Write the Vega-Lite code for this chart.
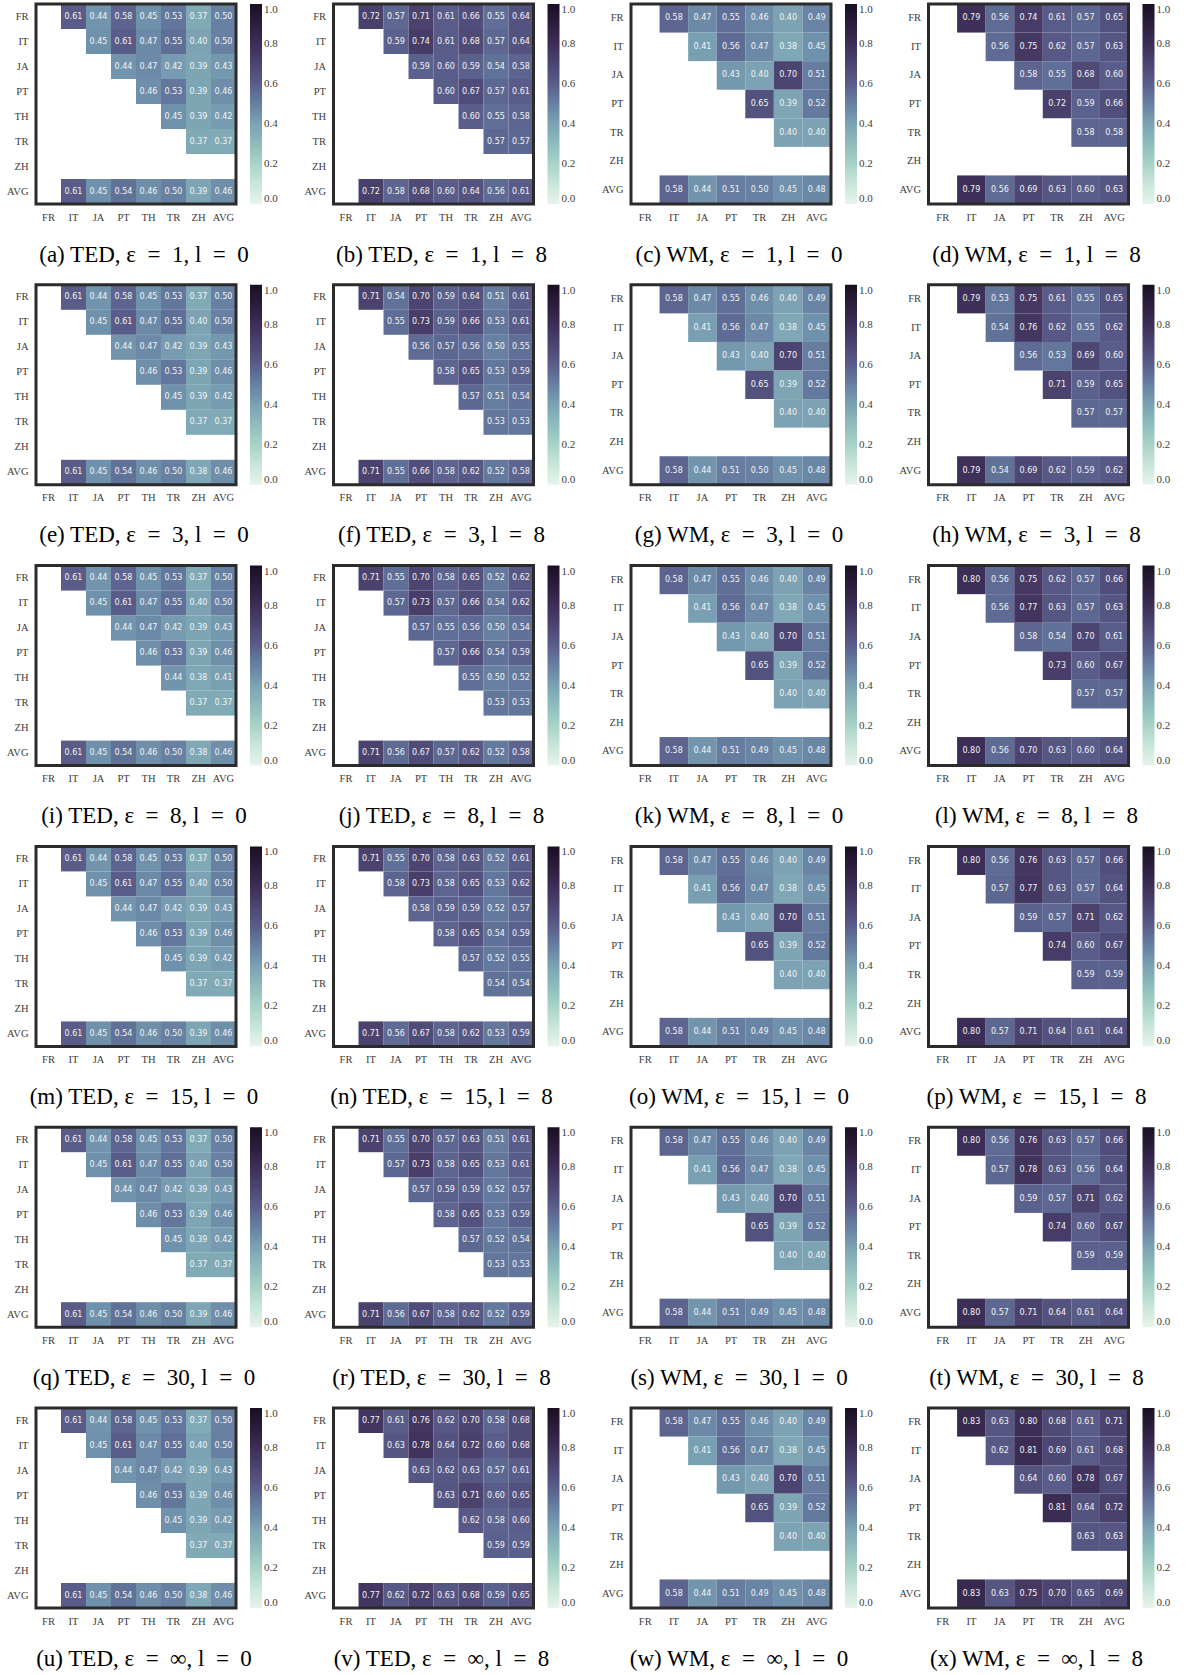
{
"$schema":"https://vega.github.io/schema/vega-lite/v6.json",
"padding":{"left":5,"top":2,"right":0,"bottom":0},
"background":"white",
"config":{
 "view":{"stroke":"#2b2b2b","strokeWidth":3},
 "style":{"cell":{"strokeForeground":true}},
 "axis":{"domain":false,"ticks":false,"grid":false,"labelFont":"Liberation Serif","labelFontSize":10.5,"labelColor":"#3c3c3c","labelPadding":8,"labelAngle":0,"title":null},
 "legend":{"gradientLength":200,"gradientThickness":12,"offset":14,"padding":0,"labelFont":"Liberation Serif","labelFontSize":11,"labelColor":"#3c3c3c","labelOffset":13,"labelBaseline":"middle","gradientStrokeWidth":0},
 "title":{"orient":"bottom","anchor":"middle","frame":"group","font":"Liberation Serif","fontSize":23,"fontWeight":"normal","color":"#000","offset":21,"dx":8}
},
"resolve":{"scale":{"color":"independent","x":"independent","y":"independent"},"legend":{"color":"independent"}},
"bounds":"flush",
"columns":4,
"spacing":{"row":80.8,"column":97.5},
"data":{"values":[
{"p":"a","r":"FR","c":"IT","v":0.61},{"p":"a","r":"FR","c":"JA","v":0.44},{"p":"a","r":"FR","c":"PT","v":0.58},{"p":"a","r":"FR","c":"TH","v":0.45},{"p":"a","r":"FR","c":"TR","v":0.53},{"p":"a","r":"FR","c":"ZH","v":0.37},{"p":"a","r":"FR","c":"AVG","v":0.50},
{"p":"a","r":"IT","c":"JA","v":0.45},{"p":"a","r":"IT","c":"PT","v":0.61},{"p":"a","r":"IT","c":"TH","v":0.47},{"p":"a","r":"IT","c":"TR","v":0.55},{"p":"a","r":"IT","c":"ZH","v":0.40},{"p":"a","r":"IT","c":"AVG","v":0.50},
{"p":"a","r":"JA","c":"PT","v":0.44},{"p":"a","r":"JA","c":"TH","v":0.47},{"p":"a","r":"JA","c":"TR","v":0.42},{"p":"a","r":"JA","c":"ZH","v":0.39},{"p":"a","r":"JA","c":"AVG","v":0.43},
{"p":"a","r":"PT","c":"TH","v":0.46},{"p":"a","r":"PT","c":"TR","v":0.53},{"p":"a","r":"PT","c":"ZH","v":0.39},{"p":"a","r":"PT","c":"AVG","v":0.46},
{"p":"a","r":"TH","c":"TR","v":0.45},{"p":"a","r":"TH","c":"ZH","v":0.39},{"p":"a","r":"TH","c":"AVG","v":0.42},
{"p":"a","r":"TR","c":"ZH","v":0.37},{"p":"a","r":"TR","c":"AVG","v":0.37},
{"p":"a","r":"ZH","c":"FR","v":null},
{"p":"a","r":"AVG","c":"IT","v":0.61},{"p":"a","r":"AVG","c":"JA","v":0.45},{"p":"a","r":"AVG","c":"PT","v":0.54},{"p":"a","r":"AVG","c":"TH","v":0.46},{"p":"a","r":"AVG","c":"TR","v":0.50},{"p":"a","r":"AVG","c":"ZH","v":0.39},{"p":"a","r":"AVG","c":"AVG","v":0.46},

{"p":"b","r":"FR","c":"IT","v":0.72},{"p":"b","r":"FR","c":"JA","v":0.57},{"p":"b","r":"FR","c":"PT","v":0.71},{"p":"b","r":"FR","c":"TH","v":0.61},{"p":"b","r":"FR","c":"TR","v":0.66},{"p":"b","r":"FR","c":"ZH","v":0.55},{"p":"b","r":"FR","c":"AVG","v":0.64},
{"p":"b","r":"IT","c":"JA","v":0.59},{"p":"b","r":"IT","c":"PT","v":0.74},{"p":"b","r":"IT","c":"TH","v":0.61},{"p":"b","r":"IT","c":"TR","v":0.68},{"p":"b","r":"IT","c":"ZH","v":0.57},{"p":"b","r":"IT","c":"AVG","v":0.64},
{"p":"b","r":"JA","c":"PT","v":0.59},{"p":"b","r":"JA","c":"TH","v":0.60},{"p":"b","r":"JA","c":"TR","v":0.59},{"p":"b","r":"JA","c":"ZH","v":0.54},{"p":"b","r":"JA","c":"AVG","v":0.58},
{"p":"b","r":"PT","c":"TH","v":0.60},{"p":"b","r":"PT","c":"TR","v":0.67},{"p":"b","r":"PT","c":"ZH","v":0.57},{"p":"b","r":"PT","c":"AVG","v":0.61},
{"p":"b","r":"TH","c":"TR","v":0.60},{"p":"b","r":"TH","c":"ZH","v":0.55},{"p":"b","r":"TH","c":"AVG","v":0.58},
{"p":"b","r":"TR","c":"ZH","v":0.57},{"p":"b","r":"TR","c":"AVG","v":0.57},
{"p":"b","r":"ZH","c":"FR","v":null},
{"p":"b","r":"AVG","c":"IT","v":0.72},{"p":"b","r":"AVG","c":"JA","v":0.58},{"p":"b","r":"AVG","c":"PT","v":0.68},{"p":"b","r":"AVG","c":"TH","v":0.60},{"p":"b","r":"AVG","c":"TR","v":0.64},{"p":"b","r":"AVG","c":"ZH","v":0.56},{"p":"b","r":"AVG","c":"AVG","v":0.61},

{"p":"c","r":"FR","c":"IT","v":0.58},{"p":"c","r":"FR","c":"JA","v":0.47},{"p":"c","r":"FR","c":"PT","v":0.55},{"p":"c","r":"FR","c":"TR","v":0.46},{"p":"c","r":"FR","c":"ZH","v":0.40},{"p":"c","r":"FR","c":"AVG","v":0.49},
{"p":"c","r":"IT","c":"JA","v":0.41},{"p":"c","r":"IT","c":"PT","v":0.56},{"p":"c","r":"IT","c":"TR","v":0.47},{"p":"c","r":"IT","c":"ZH","v":0.38},{"p":"c","r":"IT","c":"AVG","v":0.45},
{"p":"c","r":"JA","c":"PT","v":0.43},{"p":"c","r":"JA","c":"TR","v":0.40},{"p":"c","r":"JA","c":"ZH","v":0.70},{"p":"c","r":"JA","c":"AVG","v":0.51},
{"p":"c","r":"PT","c":"TR","v":0.65},{"p":"c","r":"PT","c":"ZH","v":0.39},{"p":"c","r":"PT","c":"AVG","v":0.52},
{"p":"c","r":"TR","c":"ZH","v":0.40},{"p":"c","r":"TR","c":"AVG","v":0.40},
{"p":"c","r":"ZH","c":"FR","v":null},
{"p":"c","r":"AVG","c":"IT","v":0.58},{"p":"c","r":"AVG","c":"JA","v":0.44},{"p":"c","r":"AVG","c":"PT","v":0.51},{"p":"c","r":"AVG","c":"TR","v":0.50},{"p":"c","r":"AVG","c":"ZH","v":0.45},{"p":"c","r":"AVG","c":"AVG","v":0.48},

{"p":"d","r":"FR","c":"IT","v":0.79},{"p":"d","r":"FR","c":"JA","v":0.56},{"p":"d","r":"FR","c":"PT","v":0.74},{"p":"d","r":"FR","c":"TR","v":0.61},{"p":"d","r":"FR","c":"ZH","v":0.57},{"p":"d","r":"FR","c":"AVG","v":0.65},
{"p":"d","r":"IT","c":"JA","v":0.56},{"p":"d","r":"IT","c":"PT","v":0.75},{"p":"d","r":"IT","c":"TR","v":0.62},{"p":"d","r":"IT","c":"ZH","v":0.57},{"p":"d","r":"IT","c":"AVG","v":0.63},
{"p":"d","r":"JA","c":"PT","v":0.58},{"p":"d","r":"JA","c":"TR","v":0.55},{"p":"d","r":"JA","c":"ZH","v":0.68},{"p":"d","r":"JA","c":"AVG","v":0.60},
{"p":"d","r":"PT","c":"TR","v":0.72},{"p":"d","r":"PT","c":"ZH","v":0.59},{"p":"d","r":"PT","c":"AVG","v":0.66},
{"p":"d","r":"TR","c":"ZH","v":0.58},{"p":"d","r":"TR","c":"AVG","v":0.58},
{"p":"d","r":"ZH","c":"FR","v":null},
{"p":"d","r":"AVG","c":"IT","v":0.79},{"p":"d","r":"AVG","c":"JA","v":0.56},{"p":"d","r":"AVG","c":"PT","v":0.69},{"p":"d","r":"AVG","c":"TR","v":0.63},{"p":"d","r":"AVG","c":"ZH","v":0.60},{"p":"d","r":"AVG","c":"AVG","v":0.63},

{"p":"e","r":"FR","c":"IT","v":0.61},{"p":"e","r":"FR","c":"JA","v":0.44},{"p":"e","r":"FR","c":"PT","v":0.58},{"p":"e","r":"FR","c":"TH","v":0.45},{"p":"e","r":"FR","c":"TR","v":0.53},{"p":"e","r":"FR","c":"ZH","v":0.37},{"p":"e","r":"FR","c":"AVG","v":0.50},
{"p":"e","r":"IT","c":"JA","v":0.45},{"p":"e","r":"IT","c":"PT","v":0.61},{"p":"e","r":"IT","c":"TH","v":0.47},{"p":"e","r":"IT","c":"TR","v":0.55},{"p":"e","r":"IT","c":"ZH","v":0.40},{"p":"e","r":"IT","c":"AVG","v":0.50},
{"p":"e","r":"JA","c":"PT","v":0.44},{"p":"e","r":"JA","c":"TH","v":0.47},{"p":"e","r":"JA","c":"TR","v":0.42},{"p":"e","r":"JA","c":"ZH","v":0.39},{"p":"e","r":"JA","c":"AVG","v":0.43},
{"p":"e","r":"PT","c":"TH","v":0.46},{"p":"e","r":"PT","c":"TR","v":0.53},{"p":"e","r":"PT","c":"ZH","v":0.39},{"p":"e","r":"PT","c":"AVG","v":0.46},
{"p":"e","r":"TH","c":"TR","v":0.45},{"p":"e","r":"TH","c":"ZH","v":0.39},{"p":"e","r":"TH","c":"AVG","v":0.42},
{"p":"e","r":"TR","c":"ZH","v":0.37},{"p":"e","r":"TR","c":"AVG","v":0.37},
{"p":"e","r":"ZH","c":"FR","v":null},
{"p":"e","r":"AVG","c":"IT","v":0.61},{"p":"e","r":"AVG","c":"JA","v":0.45},{"p":"e","r":"AVG","c":"PT","v":0.54},{"p":"e","r":"AVG","c":"TH","v":0.46},{"p":"e","r":"AVG","c":"TR","v":0.50},{"p":"e","r":"AVG","c":"ZH","v":0.38},{"p":"e","r":"AVG","c":"AVG","v":0.46},

{"p":"f","r":"FR","c":"IT","v":0.71},{"p":"f","r":"FR","c":"JA","v":0.54},{"p":"f","r":"FR","c":"PT","v":0.70},{"p":"f","r":"FR","c":"TH","v":0.59},{"p":"f","r":"FR","c":"TR","v":0.64},{"p":"f","r":"FR","c":"ZH","v":0.51},{"p":"f","r":"FR","c":"AVG","v":0.61},
{"p":"f","r":"IT","c":"JA","v":0.55},{"p":"f","r":"IT","c":"PT","v":0.73},{"p":"f","r":"IT","c":"TH","v":0.59},{"p":"f","r":"IT","c":"TR","v":0.66},{"p":"f","r":"IT","c":"ZH","v":0.53},{"p":"f","r":"IT","c":"AVG","v":0.61},
{"p":"f","r":"JA","c":"PT","v":0.56},{"p":"f","r":"JA","c":"TH","v":0.57},{"p":"f","r":"JA","c":"TR","v":0.56},{"p":"f","r":"JA","c":"ZH","v":0.50},{"p":"f","r":"JA","c":"AVG","v":0.55},
{"p":"f","r":"PT","c":"TH","v":0.58},{"p":"f","r":"PT","c":"TR","v":0.65},{"p":"f","r":"PT","c":"ZH","v":0.53},{"p":"f","r":"PT","c":"AVG","v":0.59},
{"p":"f","r":"TH","c":"TR","v":0.57},{"p":"f","r":"TH","c":"ZH","v":0.51},{"p":"f","r":"TH","c":"AVG","v":0.54},
{"p":"f","r":"TR","c":"ZH","v":0.53},{"p":"f","r":"TR","c":"AVG","v":0.53},
{"p":"f","r":"ZH","c":"FR","v":null},
{"p":"f","r":"AVG","c":"IT","v":0.71},{"p":"f","r":"AVG","c":"JA","v":0.55},{"p":"f","r":"AVG","c":"PT","v":0.66},{"p":"f","r":"AVG","c":"TH","v":0.58},{"p":"f","r":"AVG","c":"TR","v":0.62},{"p":"f","r":"AVG","c":"ZH","v":0.52},{"p":"f","r":"AVG","c":"AVG","v":0.58},

{"p":"g","r":"FR","c":"IT","v":0.58},{"p":"g","r":"FR","c":"JA","v":0.47},{"p":"g","r":"FR","c":"PT","v":0.55},{"p":"g","r":"FR","c":"TR","v":0.46},{"p":"g","r":"FR","c":"ZH","v":0.40},{"p":"g","r":"FR","c":"AVG","v":0.49},
{"p":"g","r":"IT","c":"JA","v":0.41},{"p":"g","r":"IT","c":"PT","v":0.56},{"p":"g","r":"IT","c":"TR","v":0.47},{"p":"g","r":"IT","c":"ZH","v":0.38},{"p":"g","r":"IT","c":"AVG","v":0.45},
{"p":"g","r":"JA","c":"PT","v":0.43},{"p":"g","r":"JA","c":"TR","v":0.40},{"p":"g","r":"JA","c":"ZH","v":0.70},{"p":"g","r":"JA","c":"AVG","v":0.51},
{"p":"g","r":"PT","c":"TR","v":0.65},{"p":"g","r":"PT","c":"ZH","v":0.39},{"p":"g","r":"PT","c":"AVG","v":0.52},
{"p":"g","r":"TR","c":"ZH","v":0.40},{"p":"g","r":"TR","c":"AVG","v":0.40},
{"p":"g","r":"ZH","c":"FR","v":null},
{"p":"g","r":"AVG","c":"IT","v":0.58},{"p":"g","r":"AVG","c":"JA","v":0.44},{"p":"g","r":"AVG","c":"PT","v":0.51},{"p":"g","r":"AVG","c":"TR","v":0.50},{"p":"g","r":"AVG","c":"ZH","v":0.45},{"p":"g","r":"AVG","c":"AVG","v":0.48},

{"p":"h","r":"FR","c":"IT","v":0.79},{"p":"h","r":"FR","c":"JA","v":0.53},{"p":"h","r":"FR","c":"PT","v":0.75},{"p":"h","r":"FR","c":"TR","v":0.61},{"p":"h","r":"FR","c":"ZH","v":0.55},{"p":"h","r":"FR","c":"AVG","v":0.65},
{"p":"h","r":"IT","c":"JA","v":0.54},{"p":"h","r":"IT","c":"PT","v":0.76},{"p":"h","r":"IT","c":"TR","v":0.62},{"p":"h","r":"IT","c":"ZH","v":0.55},{"p":"h","r":"IT","c":"AVG","v":0.62},
{"p":"h","r":"JA","c":"PT","v":0.56},{"p":"h","r":"JA","c":"TR","v":0.53},{"p":"h","r":"JA","c":"ZH","v":0.69},{"p":"h","r":"JA","c":"AVG","v":0.60},
{"p":"h","r":"PT","c":"TR","v":0.71},{"p":"h","r":"PT","c":"ZH","v":0.59},{"p":"h","r":"PT","c":"AVG","v":0.65},
{"p":"h","r":"TR","c":"ZH","v":0.57},{"p":"h","r":"TR","c":"AVG","v":0.57},
{"p":"h","r":"ZH","c":"FR","v":null},
{"p":"h","r":"AVG","c":"IT","v":0.79},{"p":"h","r":"AVG","c":"JA","v":0.54},{"p":"h","r":"AVG","c":"PT","v":0.69},{"p":"h","r":"AVG","c":"TR","v":0.62},{"p":"h","r":"AVG","c":"ZH","v":0.59},{"p":"h","r":"AVG","c":"AVG","v":0.62},

{"p":"i","r":"FR","c":"IT","v":0.61},{"p":"i","r":"FR","c":"JA","v":0.44},{"p":"i","r":"FR","c":"PT","v":0.58},{"p":"i","r":"FR","c":"TH","v":0.45},{"p":"i","r":"FR","c":"TR","v":0.53},{"p":"i","r":"FR","c":"ZH","v":0.37},{"p":"i","r":"FR","c":"AVG","v":0.50},
{"p":"i","r":"IT","c":"JA","v":0.45},{"p":"i","r":"IT","c":"PT","v":0.61},{"p":"i","r":"IT","c":"TH","v":0.47},{"p":"i","r":"IT","c":"TR","v":0.55},{"p":"i","r":"IT","c":"ZH","v":0.40},{"p":"i","r":"IT","c":"AVG","v":0.50},
{"p":"i","r":"JA","c":"PT","v":0.44},{"p":"i","r":"JA","c":"TH","v":0.47},{"p":"i","r":"JA","c":"TR","v":0.42},{"p":"i","r":"JA","c":"ZH","v":0.39},{"p":"i","r":"JA","c":"AVG","v":0.43},
{"p":"i","r":"PT","c":"TH","v":0.46},{"p":"i","r":"PT","c":"TR","v":0.53},{"p":"i","r":"PT","c":"ZH","v":0.39},{"p":"i","r":"PT","c":"AVG","v":0.46},
{"p":"i","r":"TH","c":"TR","v":0.44},{"p":"i","r":"TH","c":"ZH","v":0.38},{"p":"i","r":"TH","c":"AVG","v":0.41},
{"p":"i","r":"TR","c":"ZH","v":0.37},{"p":"i","r":"TR","c":"AVG","v":0.37},
{"p":"i","r":"ZH","c":"FR","v":null},
{"p":"i","r":"AVG","c":"IT","v":0.61},{"p":"i","r":"AVG","c":"JA","v":0.45},{"p":"i","r":"AVG","c":"PT","v":0.54},{"p":"i","r":"AVG","c":"TH","v":0.46},{"p":"i","r":"AVG","c":"TR","v":0.50},{"p":"i","r":"AVG","c":"ZH","v":0.38},{"p":"i","r":"AVG","c":"AVG","v":0.46},

{"p":"j","r":"FR","c":"IT","v":0.71},{"p":"j","r":"FR","c":"JA","v":0.55},{"p":"j","r":"FR","c":"PT","v":0.70},{"p":"j","r":"FR","c":"TH","v":0.58},{"p":"j","r":"FR","c":"TR","v":0.65},{"p":"j","r":"FR","c":"ZH","v":0.52},{"p":"j","r":"FR","c":"AVG","v":0.62},
{"p":"j","r":"IT","c":"JA","v":0.57},{"p":"j","r":"IT","c":"PT","v":0.73},{"p":"j","r":"IT","c":"TH","v":0.57},{"p":"j","r":"IT","c":"TR","v":0.66},{"p":"j","r":"IT","c":"ZH","v":0.54},{"p":"j","r":"IT","c":"AVG","v":0.62},
{"p":"j","r":"JA","c":"PT","v":0.57},{"p":"j","r":"JA","c":"TH","v":0.55},{"p":"j","r":"JA","c":"TR","v":0.56},{"p":"j","r":"JA","c":"ZH","v":0.50},{"p":"j","r":"JA","c":"AVG","v":0.54},
{"p":"j","r":"PT","c":"TH","v":0.57},{"p":"j","r":"PT","c":"TR","v":0.66},{"p":"j","r":"PT","c":"ZH","v":0.54},{"p":"j","r":"PT","c":"AVG","v":0.59},
{"p":"j","r":"TH","c":"TR","v":0.55},{"p":"j","r":"TH","c":"ZH","v":0.50},{"p":"j","r":"TH","c":"AVG","v":0.52},
{"p":"j","r":"TR","c":"ZH","v":0.53},{"p":"j","r":"TR","c":"AVG","v":0.53},
{"p":"j","r":"ZH","c":"FR","v":null},
{"p":"j","r":"AVG","c":"IT","v":0.71},{"p":"j","r":"AVG","c":"JA","v":0.56},{"p":"j","r":"AVG","c":"PT","v":0.67},{"p":"j","r":"AVG","c":"TH","v":0.57},{"p":"j","r":"AVG","c":"TR","v":0.62},{"p":"j","r":"AVG","c":"ZH","v":0.52},{"p":"j","r":"AVG","c":"AVG","v":0.58},

{"p":"k","r":"FR","c":"IT","v":0.58},{"p":"k","r":"FR","c":"JA","v":0.47},{"p":"k","r":"FR","c":"PT","v":0.55},{"p":"k","r":"FR","c":"TR","v":0.46},{"p":"k","r":"FR","c":"ZH","v":0.40},{"p":"k","r":"FR","c":"AVG","v":0.49},
{"p":"k","r":"IT","c":"JA","v":0.41},{"p":"k","r":"IT","c":"PT","v":0.56},{"p":"k","r":"IT","c":"TR","v":0.47},{"p":"k","r":"IT","c":"ZH","v":0.38},{"p":"k","r":"IT","c":"AVG","v":0.45},
{"p":"k","r":"JA","c":"PT","v":0.43},{"p":"k","r":"JA","c":"TR","v":0.40},{"p":"k","r":"JA","c":"ZH","v":0.70},{"p":"k","r":"JA","c":"AVG","v":0.51},
{"p":"k","r":"PT","c":"TR","v":0.65},{"p":"k","r":"PT","c":"ZH","v":0.39},{"p":"k","r":"PT","c":"AVG","v":0.52},
{"p":"k","r":"TR","c":"ZH","v":0.40},{"p":"k","r":"TR","c":"AVG","v":0.40},
{"p":"k","r":"ZH","c":"FR","v":null},
{"p":"k","r":"AVG","c":"IT","v":0.58},{"p":"k","r":"AVG","c":"JA","v":0.44},{"p":"k","r":"AVG","c":"PT","v":0.51},{"p":"k","r":"AVG","c":"TR","v":0.49},{"p":"k","r":"AVG","c":"ZH","v":0.45},{"p":"k","r":"AVG","c":"AVG","v":0.48},

{"p":"l","r":"FR","c":"IT","v":0.80},{"p":"l","r":"FR","c":"JA","v":0.56},{"p":"l","r":"FR","c":"PT","v":0.75},{"p":"l","r":"FR","c":"TR","v":0.62},{"p":"l","r":"FR","c":"ZH","v":0.57},{"p":"l","r":"FR","c":"AVG","v":0.66},
{"p":"l","r":"IT","c":"JA","v":0.56},{"p":"l","r":"IT","c":"PT","v":0.77},{"p":"l","r":"IT","c":"TR","v":0.63},{"p":"l","r":"IT","c":"ZH","v":0.57},{"p":"l","r":"IT","c":"AVG","v":0.63},
{"p":"l","r":"JA","c":"PT","v":0.58},{"p":"l","r":"JA","c":"TR","v":0.54},{"p":"l","r":"JA","c":"ZH","v":0.70},{"p":"l","r":"JA","c":"AVG","v":0.61},
{"p":"l","r":"PT","c":"TR","v":0.73},{"p":"l","r":"PT","c":"ZH","v":0.60},{"p":"l","r":"PT","c":"AVG","v":0.67},
{"p":"l","r":"TR","c":"ZH","v":0.57},{"p":"l","r":"TR","c":"AVG","v":0.57},
{"p":"l","r":"ZH","c":"FR","v":null},
{"p":"l","r":"AVG","c":"IT","v":0.80},{"p":"l","r":"AVG","c":"JA","v":0.56},{"p":"l","r":"AVG","c":"PT","v":0.70},{"p":"l","r":"AVG","c":"TR","v":0.63},{"p":"l","r":"AVG","c":"ZH","v":0.60},{"p":"l","r":"AVG","c":"AVG","v":0.64},

{"p":"m","r":"FR","c":"IT","v":0.61},{"p":"m","r":"FR","c":"JA","v":0.44},{"p":"m","r":"FR","c":"PT","v":0.58},{"p":"m","r":"FR","c":"TH","v":0.45},{"p":"m","r":"FR","c":"TR","v":0.53},{"p":"m","r":"FR","c":"ZH","v":0.37},{"p":"m","r":"FR","c":"AVG","v":0.50},
{"p":"m","r":"IT","c":"JA","v":0.45},{"p":"m","r":"IT","c":"PT","v":0.61},{"p":"m","r":"IT","c":"TH","v":0.47},{"p":"m","r":"IT","c":"TR","v":0.55},{"p":"m","r":"IT","c":"ZH","v":0.40},{"p":"m","r":"IT","c":"AVG","v":0.50},
{"p":"m","r":"JA","c":"PT","v":0.44},{"p":"m","r":"JA","c":"TH","v":0.47},{"p":"m","r":"JA","c":"TR","v":0.42},{"p":"m","r":"JA","c":"ZH","v":0.39},{"p":"m","r":"JA","c":"AVG","v":0.43},
{"p":"m","r":"PT","c":"TH","v":0.46},{"p":"m","r":"PT","c":"TR","v":0.53},{"p":"m","r":"PT","c":"ZH","v":0.39},{"p":"m","r":"PT","c":"AVG","v":0.46},
{"p":"m","r":"TH","c":"TR","v":0.45},{"p":"m","r":"TH","c":"ZH","v":0.39},{"p":"m","r":"TH","c":"AVG","v":0.42},
{"p":"m","r":"TR","c":"ZH","v":0.37},{"p":"m","r":"TR","c":"AVG","v":0.37},
{"p":"m","r":"ZH","c":"FR","v":null},
{"p":"m","r":"AVG","c":"IT","v":0.61},{"p":"m","r":"AVG","c":"JA","v":0.45},{"p":"m","r":"AVG","c":"PT","v":0.54},{"p":"m","r":"AVG","c":"TH","v":0.46},{"p":"m","r":"AVG","c":"TR","v":0.50},{"p":"m","r":"AVG","c":"ZH","v":0.39},{"p":"m","r":"AVG","c":"AVG","v":0.46},

{"p":"n","r":"FR","c":"IT","v":0.71},{"p":"n","r":"FR","c":"JA","v":0.55},{"p":"n","r":"FR","c":"PT","v":0.70},{"p":"n","r":"FR","c":"TH","v":0.58},{"p":"n","r":"FR","c":"TR","v":0.63},{"p":"n","r":"FR","c":"ZH","v":0.52},{"p":"n","r":"FR","c":"AVG","v":0.61},
{"p":"n","r":"IT","c":"JA","v":0.58},{"p":"n","r":"IT","c":"PT","v":0.73},{"p":"n","r":"IT","c":"TH","v":0.58},{"p":"n","r":"IT","c":"TR","v":0.65},{"p":"n","r":"IT","c":"ZH","v":0.53},{"p":"n","r":"IT","c":"AVG","v":0.62},
{"p":"n","r":"JA","c":"PT","v":0.58},{"p":"n","r":"JA","c":"TH","v":0.59},{"p":"n","r":"JA","c":"TR","v":0.59},{"p":"n","r":"JA","c":"ZH","v":0.52},{"p":"n","r":"JA","c":"AVG","v":0.57},
{"p":"n","r":"PT","c":"TH","v":0.58},{"p":"n","r":"PT","c":"TR","v":0.65},{"p":"n","r":"PT","c":"ZH","v":0.54},{"p":"n","r":"PT","c":"AVG","v":0.59},
{"p":"n","r":"TH","c":"TR","v":0.57},{"p":"n","r":"TH","c":"ZH","v":0.52},{"p":"n","r":"TH","c":"AVG","v":0.55},
{"p":"n","r":"TR","c":"ZH","v":0.54},{"p":"n","r":"TR","c":"AVG","v":0.54},
{"p":"n","r":"ZH","c":"FR","v":null},
{"p":"n","r":"AVG","c":"IT","v":0.71},{"p":"n","r":"AVG","c":"JA","v":0.56},{"p":"n","r":"AVG","c":"PT","v":0.67},{"p":"n","r":"AVG","c":"TH","v":0.58},{"p":"n","r":"AVG","c":"TR","v":0.62},{"p":"n","r":"AVG","c":"ZH","v":0.53},{"p":"n","r":"AVG","c":"AVG","v":0.59},

{"p":"o","r":"FR","c":"IT","v":0.58},{"p":"o","r":"FR","c":"JA","v":0.47},{"p":"o","r":"FR","c":"PT","v":0.55},{"p":"o","r":"FR","c":"TR","v":0.46},{"p":"o","r":"FR","c":"ZH","v":0.40},{"p":"o","r":"FR","c":"AVG","v":0.49},
{"p":"o","r":"IT","c":"JA","v":0.41},{"p":"o","r":"IT","c":"PT","v":0.56},{"p":"o","r":"IT","c":"TR","v":0.47},{"p":"o","r":"IT","c":"ZH","v":0.38},{"p":"o","r":"IT","c":"AVG","v":0.45},
{"p":"o","r":"JA","c":"PT","v":0.43},{"p":"o","r":"JA","c":"TR","v":0.40},{"p":"o","r":"JA","c":"ZH","v":0.70},{"p":"o","r":"JA","c":"AVG","v":0.51},
{"p":"o","r":"PT","c":"TR","v":0.65},{"p":"o","r":"PT","c":"ZH","v":0.39},{"p":"o","r":"PT","c":"AVG","v":0.52},
{"p":"o","r":"TR","c":"ZH","v":0.40},{"p":"o","r":"TR","c":"AVG","v":0.40},
{"p":"o","r":"ZH","c":"FR","v":null},
{"p":"o","r":"AVG","c":"IT","v":0.58},{"p":"o","r":"AVG","c":"JA","v":0.44},{"p":"o","r":"AVG","c":"PT","v":0.51},{"p":"o","r":"AVG","c":"TR","v":0.49},{"p":"o","r":"AVG","c":"ZH","v":0.45},{"p":"o","r":"AVG","c":"AVG","v":0.48},

{"p":"p","r":"FR","c":"IT","v":0.80},{"p":"p","r":"FR","c":"JA","v":0.56},{"p":"p","r":"FR","c":"PT","v":0.76},{"p":"p","r":"FR","c":"TR","v":0.63},{"p":"p","r":"FR","c":"ZH","v":0.57},{"p":"p","r":"FR","c":"AVG","v":0.66},
{"p":"p","r":"IT","c":"JA","v":0.57},{"p":"p","r":"IT","c":"PT","v":0.77},{"p":"p","r":"IT","c":"TR","v":0.63},{"p":"p","r":"IT","c":"ZH","v":0.57},{"p":"p","r":"IT","c":"AVG","v":0.64},
{"p":"p","r":"JA","c":"PT","v":0.59},{"p":"p","r":"JA","c":"TR","v":0.57},{"p":"p","r":"JA","c":"ZH","v":0.71},{"p":"p","r":"JA","c":"AVG","v":0.62},
{"p":"p","r":"PT","c":"TR","v":0.74},{"p":"p","r":"PT","c":"ZH","v":0.60},{"p":"p","r":"PT","c":"AVG","v":0.67},
{"p":"p","r":"TR","c":"ZH","v":0.59},{"p":"p","r":"TR","c":"AVG","v":0.59},
{"p":"p","r":"ZH","c":"FR","v":null},
{"p":"p","r":"AVG","c":"IT","v":0.80},{"p":"p","r":"AVG","c":"JA","v":0.57},{"p":"p","r":"AVG","c":"PT","v":0.71},{"p":"p","r":"AVG","c":"TR","v":0.64},{"p":"p","r":"AVG","c":"ZH","v":0.61},{"p":"p","r":"AVG","c":"AVG","v":0.64},

{"p":"q","r":"FR","c":"IT","v":0.61},{"p":"q","r":"FR","c":"JA","v":0.44},{"p":"q","r":"FR","c":"PT","v":0.58},{"p":"q","r":"FR","c":"TH","v":0.45},{"p":"q","r":"FR","c":"TR","v":0.53},{"p":"q","r":"FR","c":"ZH","v":0.37},{"p":"q","r":"FR","c":"AVG","v":0.50},
{"p":"q","r":"IT","c":"JA","v":0.45},{"p":"q","r":"IT","c":"PT","v":0.61},{"p":"q","r":"IT","c":"TH","v":0.47},{"p":"q","r":"IT","c":"TR","v":0.55},{"p":"q","r":"IT","c":"ZH","v":0.40},{"p":"q","r":"IT","c":"AVG","v":0.50},
{"p":"q","r":"JA","c":"PT","v":0.44},{"p":"q","r":"JA","c":"TH","v":0.47},{"p":"q","r":"JA","c":"TR","v":0.42},{"p":"q","r":"JA","c":"ZH","v":0.39},{"p":"q","r":"JA","c":"AVG","v":0.43},
{"p":"q","r":"PT","c":"TH","v":0.46},{"p":"q","r":"PT","c":"TR","v":0.53},{"p":"q","r":"PT","c":"ZH","v":0.39},{"p":"q","r":"PT","c":"AVG","v":0.46},
{"p":"q","r":"TH","c":"TR","v":0.45},{"p":"q","r":"TH","c":"ZH","v":0.39},{"p":"q","r":"TH","c":"AVG","v":0.42},
{"p":"q","r":"TR","c":"ZH","v":0.37},{"p":"q","r":"TR","c":"AVG","v":0.37},
{"p":"q","r":"ZH","c":"FR","v":null},
{"p":"q","r":"AVG","c":"IT","v":0.61},{"p":"q","r":"AVG","c":"JA","v":0.45},{"p":"q","r":"AVG","c":"PT","v":0.54},{"p":"q","r":"AVG","c":"TH","v":0.46},{"p":"q","r":"AVG","c":"TR","v":0.50},{"p":"q","r":"AVG","c":"ZH","v":0.39},{"p":"q","r":"AVG","c":"AVG","v":0.46},

{"p":"r","r":"FR","c":"IT","v":0.71},{"p":"r","r":"FR","c":"JA","v":0.55},{"p":"r","r":"FR","c":"PT","v":0.70},{"p":"r","r":"FR","c":"TH","v":0.57},{"p":"r","r":"FR","c":"TR","v":0.63},{"p":"r","r":"FR","c":"ZH","v":0.51},{"p":"r","r":"FR","c":"AVG","v":0.61},
{"p":"r","r":"IT","c":"JA","v":0.57},{"p":"r","r":"IT","c":"PT","v":0.73},{"p":"r","r":"IT","c":"TH","v":0.58},{"p":"r","r":"IT","c":"TR","v":0.65},{"p":"r","r":"IT","c":"ZH","v":0.53},{"p":"r","r":"IT","c":"AVG","v":0.61},
{"p":"r","r":"JA","c":"PT","v":0.57},{"p":"r","r":"JA","c":"TH","v":0.59},{"p":"r","r":"JA","c":"TR","v":0.59},{"p":"r","r":"JA","c":"ZH","v":0.52},{"p":"r","r":"JA","c":"AVG","v":0.57},
{"p":"r","r":"PT","c":"TH","v":0.58},{"p":"r","r":"PT","c":"TR","v":0.65},{"p":"r","r":"PT","c":"ZH","v":0.53},{"p":"r","r":"PT","c":"AVG","v":0.59},
{"p":"r","r":"TH","c":"TR","v":0.57},{"p":"r","r":"TH","c":"ZH","v":0.52},{"p":"r","r":"TH","c":"AVG","v":0.54},
{"p":"r","r":"TR","c":"ZH","v":0.53},{"p":"r","r":"TR","c":"AVG","v":0.53},
{"p":"r","r":"ZH","c":"FR","v":null},
{"p":"r","r":"AVG","c":"IT","v":0.71},{"p":"r","r":"AVG","c":"JA","v":0.56},{"p":"r","r":"AVG","c":"PT","v":0.67},{"p":"r","r":"AVG","c":"TH","v":0.58},{"p":"r","r":"AVG","c":"TR","v":0.62},{"p":"r","r":"AVG","c":"ZH","v":0.52},{"p":"r","r":"AVG","c":"AVG","v":0.59},

{"p":"s","r":"FR","c":"IT","v":0.58},{"p":"s","r":"FR","c":"JA","v":0.47},{"p":"s","r":"FR","c":"PT","v":0.55},{"p":"s","r":"FR","c":"TR","v":0.46},{"p":"s","r":"FR","c":"ZH","v":0.40},{"p":"s","r":"FR","c":"AVG","v":0.49},
{"p":"s","r":"IT","c":"JA","v":0.41},{"p":"s","r":"IT","c":"PT","v":0.56},{"p":"s","r":"IT","c":"TR","v":0.47},{"p":"s","r":"IT","c":"ZH","v":0.38},{"p":"s","r":"IT","c":"AVG","v":0.45},
{"p":"s","r":"JA","c":"PT","v":0.43},{"p":"s","r":"JA","c":"TR","v":0.40},{"p":"s","r":"JA","c":"ZH","v":0.70},{"p":"s","r":"JA","c":"AVG","v":0.51},
{"p":"s","r":"PT","c":"TR","v":0.65},{"p":"s","r":"PT","c":"ZH","v":0.39},{"p":"s","r":"PT","c":"AVG","v":0.52},
{"p":"s","r":"TR","c":"ZH","v":0.40},{"p":"s","r":"TR","c":"AVG","v":0.40},
{"p":"s","r":"ZH","c":"FR","v":null},
{"p":"s","r":"AVG","c":"IT","v":0.58},{"p":"s","r":"AVG","c":"JA","v":0.44},{"p":"s","r":"AVG","c":"PT","v":0.51},{"p":"s","r":"AVG","c":"TR","v":0.49},{"p":"s","r":"AVG","c":"ZH","v":0.45},{"p":"s","r":"AVG","c":"AVG","v":0.48},

{"p":"t","r":"FR","c":"IT","v":0.80},{"p":"t","r":"FR","c":"JA","v":0.56},{"p":"t","r":"FR","c":"PT","v":0.76},{"p":"t","r":"FR","c":"TR","v":0.63},{"p":"t","r":"FR","c":"ZH","v":0.57},{"p":"t","r":"FR","c":"AVG","v":0.66},
{"p":"t","r":"IT","c":"JA","v":0.57},{"p":"t","r":"IT","c":"PT","v":0.78},{"p":"t","r":"IT","c":"TR","v":0.63},{"p":"t","r":"IT","c":"ZH","v":0.56},{"p":"t","r":"IT","c":"AVG","v":0.64},
{"p":"t","r":"JA","c":"PT","v":0.59},{"p":"t","r":"JA","c":"TR","v":0.57},{"p":"t","r":"JA","c":"ZH","v":0.71},{"p":"t","r":"JA","c":"AVG","v":0.62},
{"p":"t","r":"PT","c":"TR","v":0.74},{"p":"t","r":"PT","c":"ZH","v":0.60},{"p":"t","r":"PT","c":"AVG","v":0.67},
{"p":"t","r":"TR","c":"ZH","v":0.59},{"p":"t","r":"TR","c":"AVG","v":0.59},
{"p":"t","r":"ZH","c":"FR","v":null},
{"p":"t","r":"AVG","c":"IT","v":0.80},{"p":"t","r":"AVG","c":"JA","v":0.57},{"p":"t","r":"AVG","c":"PT","v":0.71},{"p":"t","r":"AVG","c":"TR","v":0.64},{"p":"t","r":"AVG","c":"ZH","v":0.61},{"p":"t","r":"AVG","c":"AVG","v":0.64},

{"p":"u","r":"FR","c":"IT","v":0.61},{"p":"u","r":"FR","c":"JA","v":0.44},{"p":"u","r":"FR","c":"PT","v":0.58},{"p":"u","r":"FR","c":"TH","v":0.45},{"p":"u","r":"FR","c":"TR","v":0.53},{"p":"u","r":"FR","c":"ZH","v":0.37},{"p":"u","r":"FR","c":"AVG","v":0.50},
{"p":"u","r":"IT","c":"JA","v":0.45},{"p":"u","r":"IT","c":"PT","v":0.61},{"p":"u","r":"IT","c":"TH","v":0.47},{"p":"u","r":"IT","c":"TR","v":0.55},{"p":"u","r":"IT","c":"ZH","v":0.40},{"p":"u","r":"IT","c":"AVG","v":0.50},
{"p":"u","r":"JA","c":"PT","v":0.44},{"p":"u","r":"JA","c":"TH","v":0.47},{"p":"u","r":"JA","c":"TR","v":0.42},{"p":"u","r":"JA","c":"ZH","v":0.39},{"p":"u","r":"JA","c":"AVG","v":0.43},
{"p":"u","r":"PT","c":"TH","v":0.46},{"p":"u","r":"PT","c":"TR","v":0.53},{"p":"u","r":"PT","c":"ZH","v":0.39},{"p":"u","r":"PT","c":"AVG","v":0.46},
{"p":"u","r":"TH","c":"TR","v":0.45},{"p":"u","r":"TH","c":"ZH","v":0.39},{"p":"u","r":"TH","c":"AVG","v":0.42},
{"p":"u","r":"TR","c":"ZH","v":0.37},{"p":"u","r":"TR","c":"AVG","v":0.37},
{"p":"u","r":"ZH","c":"FR","v":null},
{"p":"u","r":"AVG","c":"IT","v":0.61},{"p":"u","r":"AVG","c":"JA","v":0.45},{"p":"u","r":"AVG","c":"PT","v":0.54},{"p":"u","r":"AVG","c":"TH","v":0.46},{"p":"u","r":"AVG","c":"TR","v":0.50},{"p":"u","r":"AVG","c":"ZH","v":0.38},{"p":"u","r":"AVG","c":"AVG","v":0.46},

{"p":"v","r":"FR","c":"IT","v":0.77},{"p":"v","r":"FR","c":"JA","v":0.61},{"p":"v","r":"FR","c":"PT","v":0.76},{"p":"v","r":"FR","c":"TH","v":0.62},{"p":"v","r":"FR","c":"TR","v":0.70},{"p":"v","r":"FR","c":"ZH","v":0.58},{"p":"v","r":"FR","c":"AVG","v":0.68},
{"p":"v","r":"IT","c":"JA","v":0.63},{"p":"v","r":"IT","c":"PT","v":0.78},{"p":"v","r":"IT","c":"TH","v":0.64},{"p":"v","r":"IT","c":"TR","v":0.72},{"p":"v","r":"IT","c":"ZH","v":0.60},{"p":"v","r":"IT","c":"AVG","v":0.68},
{"p":"v","r":"JA","c":"PT","v":0.63},{"p":"v","r":"JA","c":"TH","v":0.62},{"p":"v","r":"JA","c":"TR","v":0.63},{"p":"v","r":"JA","c":"ZH","v":0.57},{"p":"v","r":"JA","c":"AVG","v":0.61},
{"p":"v","r":"PT","c":"TH","v":0.63},{"p":"v","r":"PT","c":"TR","v":0.71},{"p":"v","r":"PT","c":"ZH","v":0.60},{"p":"v","r":"PT","c":"AVG","v":0.65},
{"p":"v","r":"TH","c":"TR","v":0.62},{"p":"v","r":"TH","c":"ZH","v":0.58},{"p":"v","r":"TH","c":"AVG","v":0.60},
{"p":"v","r":"TR","c":"ZH","v":0.59},{"p":"v","r":"TR","c":"AVG","v":0.59},
{"p":"v","r":"ZH","c":"FR","v":null},
{"p":"v","r":"AVG","c":"IT","v":0.77},{"p":"v","r":"AVG","c":"JA","v":0.62},{"p":"v","r":"AVG","c":"PT","v":0.72},{"p":"v","r":"AVG","c":"TH","v":0.63},{"p":"v","r":"AVG","c":"TR","v":0.68},{"p":"v","r":"AVG","c":"ZH","v":0.59},{"p":"v","r":"AVG","c":"AVG","v":0.65},

{"p":"w","r":"FR","c":"IT","v":0.58},{"p":"w","r":"FR","c":"JA","v":0.47},{"p":"w","r":"FR","c":"PT","v":0.55},{"p":"w","r":"FR","c":"TR","v":0.46},{"p":"w","r":"FR","c":"ZH","v":0.40},{"p":"w","r":"FR","c":"AVG","v":0.49},
{"p":"w","r":"IT","c":"JA","v":0.41},{"p":"w","r":"IT","c":"PT","v":0.56},{"p":"w","r":"IT","c":"TR","v":0.47},{"p":"w","r":"IT","c":"ZH","v":0.38},{"p":"w","r":"IT","c":"AVG","v":0.45},
{"p":"w","r":"JA","c":"PT","v":0.43},{"p":"w","r":"JA","c":"TR","v":0.40},{"p":"w","r":"JA","c":"ZH","v":0.70},{"p":"w","r":"JA","c":"AVG","v":0.51},
{"p":"w","r":"PT","c":"TR","v":0.65},{"p":"w","r":"PT","c":"ZH","v":0.39},{"p":"w","r":"PT","c":"AVG","v":0.52},
{"p":"w","r":"TR","c":"ZH","v":0.40},{"p":"w","r":"TR","c":"AVG","v":0.40},
{"p":"w","r":"ZH","c":"FR","v":null},
{"p":"w","r":"AVG","c":"IT","v":0.58},{"p":"w","r":"AVG","c":"JA","v":0.44},{"p":"w","r":"AVG","c":"PT","v":0.51},{"p":"w","r":"AVG","c":"TR","v":0.49},{"p":"w","r":"AVG","c":"ZH","v":0.45},{"p":"w","r":"AVG","c":"AVG","v":0.48},

{"p":"x","r":"FR","c":"IT","v":0.83},{"p":"x","r":"FR","c":"JA","v":0.63},{"p":"x","r":"FR","c":"PT","v":0.80},{"p":"x","r":"FR","c":"TR","v":0.68},{"p":"x","r":"FR","c":"ZH","v":0.61},{"p":"x","r":"FR","c":"AVG","v":0.71},
{"p":"x","r":"IT","c":"JA","v":0.62},{"p":"x","r":"IT","c":"PT","v":0.81},{"p":"x","r":"IT","c":"TR","v":0.69},{"p":"x","r":"IT","c":"ZH","v":0.61},{"p":"x","r":"IT","c":"AVG","v":0.68},
{"p":"x","r":"JA","c":"PT","v":0.64},{"p":"x","r":"JA","c":"TR","v":0.60},{"p":"x","r":"JA","c":"ZH","v":0.78},{"p":"x","r":"JA","c":"AVG","v":0.67},
{"p":"x","r":"PT","c":"TR","v":0.81},{"p":"x","r":"PT","c":"ZH","v":0.64},{"p":"x","r":"PT","c":"AVG","v":0.72},
{"p":"x","r":"TR","c":"ZH","v":0.63},{"p":"x","r":"TR","c":"AVG","v":0.63},
{"p":"x","r":"ZH","c":"FR","v":null},
{"p":"x","r":"AVG","c":"IT","v":0.83},{"p":"x","r":"AVG","c":"JA","v":0.63},{"p":"x","r":"AVG","c":"PT","v":0.75},{"p":"x","r":"AVG","c":"TR","v":0.70},{"p":"x","r":"AVG","c":"ZH","v":0.65},{"p":"x","r":"AVG","c":"AVG","v":0.69}
]},
"concat":[
{"title":"(a) TED, ε\u2002=\u20021, l\u2002=\u20020","transform":[{"filter":"datum.p==='a'"}],"width":200,"height":200,"encoding":{"x":{"field":"c","type":"nominal","sort":["FR","IT","JA","PT","TH","TR","ZH","AVG"]},"y":{"field":"r","type":"nominal","sort":["FR","IT","JA","PT","TH","TR","ZH","AVG"]}},"layer":[{"transform":[{"filter":"datum.v!=null"}],"mark":"rect","encoding":{"color":{"field":"v","type":"quantitative","scale":{"domain":[0,0.1,0.2,0.3,0.4,0.5,0.6,0.7,0.8,0.9,1],"range":["#e8f4ec","#c9e6d9","#a9d3c8","#8fbcbc","#7ca2b3","#6880a2","#5a5d8a","#4c4571","#3d2e57","#2c1d3d","#1a0f22"]},"legend":{"title":null,"values":[0,0.2,0.4,0.6,0.8,1],"format":".1f"}}}},{"mark":{"type":"text","font":"DejaVu Sans","fontSize":8,"color":"#f4f4f4"},"encoding":{"text":{"condition":{"test":"datum.v!=null","field":"v","format":".2f"},"value":""}}}]},
{"title":"(b) TED, ε\u2002=\u20021, l\u2002=\u20028","transform":[{"filter":"datum.p==='b'"}],"width":200,"height":200,"encoding":{"x":{"field":"c","type":"nominal","sort":["FR","IT","JA","PT","TH","TR","ZH","AVG"]},"y":{"field":"r","type":"nominal","sort":["FR","IT","JA","PT","TH","TR","ZH","AVG"]}},"layer":[{"transform":[{"filter":"datum.v!=null"}],"mark":"rect","encoding":{"color":{"field":"v","type":"quantitative","scale":{"domain":[0,0.1,0.2,0.3,0.4,0.5,0.6,0.7,0.8,0.9,1],"range":["#e8f4ec","#c9e6d9","#a9d3c8","#8fbcbc","#7ca2b3","#6880a2","#5a5d8a","#4c4571","#3d2e57","#2c1d3d","#1a0f22"]},"legend":{"title":null,"values":[0,0.2,0.4,0.6,0.8,1],"format":".1f"}}}},{"mark":{"type":"text","font":"DejaVu Sans","fontSize":8,"color":"#f4f4f4"},"encoding":{"text":{"condition":{"test":"datum.v!=null","field":"v","format":".2f"},"value":""}}}]},
{"title":"(c) WM, ε\u2002=\u20021, l\u2002=\u20020","transform":[{"filter":"datum.p==='c'"}],"width":200,"height":200,"encoding":{"x":{"field":"c","type":"nominal","sort":["FR","IT","JA","PT","TR","ZH","AVG"]},"y":{"field":"r","type":"nominal","sort":["FR","IT","JA","PT","TR","ZH","AVG"]}},"layer":[{"transform":[{"filter":"datum.v!=null"}],"mark":"rect","encoding":{"color":{"field":"v","type":"quantitative","scale":{"domain":[0,0.1,0.2,0.3,0.4,0.5,0.6,0.7,0.8,0.9,1],"range":["#e8f4ec","#c9e6d9","#a9d3c8","#8fbcbc","#7ca2b3","#6880a2","#5a5d8a","#4c4571","#3d2e57","#2c1d3d","#1a0f22"]},"legend":{"title":null,"values":[0,0.2,0.4,0.6,0.8,1],"format":".1f"}}}},{"mark":{"type":"text","font":"DejaVu Sans","fontSize":8,"color":"#f4f4f4"},"encoding":{"text":{"condition":{"test":"datum.v!=null","field":"v","format":".2f"},"value":""}}}]},
{"title":"(d) WM, ε\u2002=\u20021, l\u2002=\u20028","transform":[{"filter":"datum.p==='d'"}],"width":200,"height":200,"encoding":{"x":{"field":"c","type":"nominal","sort":["FR","IT","JA","PT","TR","ZH","AVG"]},"y":{"field":"r","type":"nominal","sort":["FR","IT","JA","PT","TR","ZH","AVG"]}},"layer":[{"transform":[{"filter":"datum.v!=null"}],"mark":"rect","encoding":{"color":{"field":"v","type":"quantitative","scale":{"domain":[0,0.1,0.2,0.3,0.4,0.5,0.6,0.7,0.8,0.9,1],"range":["#e8f4ec","#c9e6d9","#a9d3c8","#8fbcbc","#7ca2b3","#6880a2","#5a5d8a","#4c4571","#3d2e57","#2c1d3d","#1a0f22"]},"legend":{"title":null,"values":[0,0.2,0.4,0.6,0.8,1],"format":".1f"}}}},{"mark":{"type":"text","font":"DejaVu Sans","fontSize":8,"color":"#f4f4f4"},"encoding":{"text":{"condition":{"test":"datum.v!=null","field":"v","format":".2f"},"value":""}}}]},
{"title":"(e) TED, ε\u2002=\u20023, l\u2002=\u20020","transform":[{"filter":"datum.p==='e'"}],"width":200,"height":200,"encoding":{"x":{"field":"c","type":"nominal","sort":["FR","IT","JA","PT","TH","TR","ZH","AVG"]},"y":{"field":"r","type":"nominal","sort":["FR","IT","JA","PT","TH","TR","ZH","AVG"]}},"layer":[{"transform":[{"filter":"datum.v!=null"}],"mark":"rect","encoding":{"color":{"field":"v","type":"quantitative","scale":{"domain":[0,0.1,0.2,0.3,0.4,0.5,0.6,0.7,0.8,0.9,1],"range":["#e8f4ec","#c9e6d9","#a9d3c8","#8fbcbc","#7ca2b3","#6880a2","#5a5d8a","#4c4571","#3d2e57","#2c1d3d","#1a0f22"]},"legend":{"title":null,"values":[0,0.2,0.4,0.6,0.8,1],"format":".1f"}}}},{"mark":{"type":"text","font":"DejaVu Sans","fontSize":8,"color":"#f4f4f4"},"encoding":{"text":{"condition":{"test":"datum.v!=null","field":"v","format":".2f"},"value":""}}}]},
{"title":"(f) TED, ε\u2002=\u20023, l\u2002=\u20028","transform":[{"filter":"datum.p==='f'"}],"width":200,"height":200,"encoding":{"x":{"field":"c","type":"nominal","sort":["FR","IT","JA","PT","TH","TR","ZH","AVG"]},"y":{"field":"r","type":"nominal","sort":["FR","IT","JA","PT","TH","TR","ZH","AVG"]}},"layer":[{"transform":[{"filter":"datum.v!=null"}],"mark":"rect","encoding":{"color":{"field":"v","type":"quantitative","scale":{"domain":[0,0.1,0.2,0.3,0.4,0.5,0.6,0.7,0.8,0.9,1],"range":["#e8f4ec","#c9e6d9","#a9d3c8","#8fbcbc","#7ca2b3","#6880a2","#5a5d8a","#4c4571","#3d2e57","#2c1d3d","#1a0f22"]},"legend":{"title":null,"values":[0,0.2,0.4,0.6,0.8,1],"format":".1f"}}}},{"mark":{"type":"text","font":"DejaVu Sans","fontSize":8,"color":"#f4f4f4"},"encoding":{"text":{"condition":{"test":"datum.v!=null","field":"v","format":".2f"},"value":""}}}]},
{"title":"(g) WM, ε\u2002=\u20023, l\u2002=\u20020","transform":[{"filter":"datum.p==='g'"}],"width":200,"height":200,"encoding":{"x":{"field":"c","type":"nominal","sort":["FR","IT","JA","PT","TR","ZH","AVG"]},"y":{"field":"r","type":"nominal","sort":["FR","IT","JA","PT","TR","ZH","AVG"]}},"layer":[{"transform":[{"filter":"datum.v!=null"}],"mark":"rect","encoding":{"color":{"field":"v","type":"quantitative","scale":{"domain":[0,0.1,0.2,0.3,0.4,0.5,0.6,0.7,0.8,0.9,1],"range":["#e8f4ec","#c9e6d9","#a9d3c8","#8fbcbc","#7ca2b3","#6880a2","#5a5d8a","#4c4571","#3d2e57","#2c1d3d","#1a0f22"]},"legend":{"title":null,"values":[0,0.2,0.4,0.6,0.8,1],"format":".1f"}}}},{"mark":{"type":"text","font":"DejaVu Sans","fontSize":8,"color":"#f4f4f4"},"encoding":{"text":{"condition":{"test":"datum.v!=null","field":"v","format":".2f"},"value":""}}}]},
{"title":"(h) WM, ε\u2002=\u20023, l\u2002=\u20028","transform":[{"filter":"datum.p==='h'"}],"width":200,"height":200,"encoding":{"x":{"field":"c","type":"nominal","sort":["FR","IT","JA","PT","TR","ZH","AVG"]},"y":{"field":"r","type":"nominal","sort":["FR","IT","JA","PT","TR","ZH","AVG"]}},"layer":[{"transform":[{"filter":"datum.v!=null"}],"mark":"rect","encoding":{"color":{"field":"v","type":"quantitative","scale":{"domain":[0,0.1,0.2,0.3,0.4,0.5,0.6,0.7,0.8,0.9,1],"range":["#e8f4ec","#c9e6d9","#a9d3c8","#8fbcbc","#7ca2b3","#6880a2","#5a5d8a","#4c4571","#3d2e57","#2c1d3d","#1a0f22"]},"legend":{"title":null,"values":[0,0.2,0.4,0.6,0.8,1],"format":".1f"}}}},{"mark":{"type":"text","font":"DejaVu Sans","fontSize":8,"color":"#f4f4f4"},"encoding":{"text":{"condition":{"test":"datum.v!=null","field":"v","format":".2f"},"value":""}}}]},
{"title":"(i) TED, ε\u2002=\u20028, l\u2002=\u20020","transform":[{"filter":"datum.p==='i'"}],"width":200,"height":200,"encoding":{"x":{"field":"c","type":"nominal","sort":["FR","IT","JA","PT","TH","TR","ZH","AVG"]},"y":{"field":"r","type":"nominal","sort":["FR","IT","JA","PT","TH","TR","ZH","AVG"]}},"layer":[{"transform":[{"filter":"datum.v!=null"}],"mark":"rect","encoding":{"color":{"field":"v","type":"quantitative","scale":{"domain":[0,0.1,0.2,0.3,0.4,0.5,0.6,0.7,0.8,0.9,1],"range":["#e8f4ec","#c9e6d9","#a9d3c8","#8fbcbc","#7ca2b3","#6880a2","#5a5d8a","#4c4571","#3d2e57","#2c1d3d","#1a0f22"]},"legend":{"title":null,"values":[0,0.2,0.4,0.6,0.8,1],"format":".1f"}}}},{"mark":{"type":"text","font":"DejaVu Sans","fontSize":8,"color":"#f4f4f4"},"encoding":{"text":{"condition":{"test":"datum.v!=null","field":"v","format":".2f"},"value":""}}}]},
{"title":"(j) TED, ε\u2002=\u20028, l\u2002=\u20028","transform":[{"filter":"datum.p==='j'"}],"width":200,"height":200,"encoding":{"x":{"field":"c","type":"nominal","sort":["FR","IT","JA","PT","TH","TR","ZH","AVG"]},"y":{"field":"r","type":"nominal","sort":["FR","IT","JA","PT","TH","TR","ZH","AVG"]}},"layer":[{"transform":[{"filter":"datum.v!=null"}],"mark":"rect","encoding":{"color":{"field":"v","type":"quantitative","scale":{"domain":[0,0.1,0.2,0.3,0.4,0.5,0.6,0.7,0.8,0.9,1],"range":["#e8f4ec","#c9e6d9","#a9d3c8","#8fbcbc","#7ca2b3","#6880a2","#5a5d8a","#4c4571","#3d2e57","#2c1d3d","#1a0f22"]},"legend":{"title":null,"values":[0,0.2,0.4,0.6,0.8,1],"format":".1f"}}}},{"mark":{"type":"text","font":"DejaVu Sans","fontSize":8,"color":"#f4f4f4"},"encoding":{"text":{"condition":{"test":"datum.v!=null","field":"v","format":".2f"},"value":""}}}]},
{"title":"(k) WM, ε\u2002=\u20028, l\u2002=\u20020","transform":[{"filter":"datum.p==='k'"}],"width":200,"height":200,"encoding":{"x":{"field":"c","type":"nominal","sort":["FR","IT","JA","PT","TR","ZH","AVG"]},"y":{"field":"r","type":"nominal","sort":["FR","IT","JA","PT","TR","ZH","AVG"]}},"layer":[{"transform":[{"filter":"datum.v!=null"}],"mark":"rect","encoding":{"color":{"field":"v","type":"quantitative","scale":{"domain":[0,0.1,0.2,0.3,0.4,0.5,0.6,0.7,0.8,0.9,1],"range":["#e8f4ec","#c9e6d9","#a9d3c8","#8fbcbc","#7ca2b3","#6880a2","#5a5d8a","#4c4571","#3d2e57","#2c1d3d","#1a0f22"]},"legend":{"title":null,"values":[0,0.2,0.4,0.6,0.8,1],"format":".1f"}}}},{"mark":{"type":"text","font":"DejaVu Sans","fontSize":8,"color":"#f4f4f4"},"encoding":{"text":{"condition":{"test":"datum.v!=null","field":"v","format":".2f"},"value":""}}}]},
{"title":"(l) WM, ε\u2002=\u20028, l\u2002=\u20028","transform":[{"filter":"datum.p==='l'"}],"width":200,"height":200,"encoding":{"x":{"field":"c","type":"nominal","sort":["FR","IT","JA","PT","TR","ZH","AVG"]},"y":{"field":"r","type":"nominal","sort":["FR","IT","JA","PT","TR","ZH","AVG"]}},"layer":[{"transform":[{"filter":"datum.v!=null"}],"mark":"rect","encoding":{"color":{"field":"v","type":"quantitative","scale":{"domain":[0,0.1,0.2,0.3,0.4,0.5,0.6,0.7,0.8,0.9,1],"range":["#e8f4ec","#c9e6d9","#a9d3c8","#8fbcbc","#7ca2b3","#6880a2","#5a5d8a","#4c4571","#3d2e57","#2c1d3d","#1a0f22"]},"legend":{"title":null,"values":[0,0.2,0.4,0.6,0.8,1],"format":".1f"}}}},{"mark":{"type":"text","font":"DejaVu Sans","fontSize":8,"color":"#f4f4f4"},"encoding":{"text":{"condition":{"test":"datum.v!=null","field":"v","format":".2f"},"value":""}}}]},
{"title":"(m) TED, ε\u2002=\u200215, l\u2002=\u20020","transform":[{"filter":"datum.p==='m'"}],"width":200,"height":200,"encoding":{"x":{"field":"c","type":"nominal","sort":["FR","IT","JA","PT","TH","TR","ZH","AVG"]},"y":{"field":"r","type":"nominal","sort":["FR","IT","JA","PT","TH","TR","ZH","AVG"]}},"layer":[{"transform":[{"filter":"datum.v!=null"}],"mark":"rect","encoding":{"color":{"field":"v","type":"quantitative","scale":{"domain":[0,0.1,0.2,0.3,0.4,0.5,0.6,0.7,0.8,0.9,1],"range":["#e8f4ec","#c9e6d9","#a9d3c8","#8fbcbc","#7ca2b3","#6880a2","#5a5d8a","#4c4571","#3d2e57","#2c1d3d","#1a0f22"]},"legend":{"title":null,"values":[0,0.2,0.4,0.6,0.8,1],"format":".1f"}}}},{"mark":{"type":"text","font":"DejaVu Sans","fontSize":8,"color":"#f4f4f4"},"encoding":{"text":{"condition":{"test":"datum.v!=null","field":"v","format":".2f"},"value":""}}}]},
{"title":"(n) TED, ε\u2002=\u200215, l\u2002=\u20028","transform":[{"filter":"datum.p==='n'"}],"width":200,"height":200,"encoding":{"x":{"field":"c","type":"nominal","sort":["FR","IT","JA","PT","TH","TR","ZH","AVG"]},"y":{"field":"r","type":"nominal","sort":["FR","IT","JA","PT","TH","TR","ZH","AVG"]}},"layer":[{"transform":[{"filter":"datum.v!=null"}],"mark":"rect","encoding":{"color":{"field":"v","type":"quantitative","scale":{"domain":[0,0.1,0.2,0.3,0.4,0.5,0.6,0.7,0.8,0.9,1],"range":["#e8f4ec","#c9e6d9","#a9d3c8","#8fbcbc","#7ca2b3","#6880a2","#5a5d8a","#4c4571","#3d2e57","#2c1d3d","#1a0f22"]},"legend":{"title":null,"values":[0,0.2,0.4,0.6,0.8,1],"format":".1f"}}}},{"mark":{"type":"text","font":"DejaVu Sans","fontSize":8,"color":"#f4f4f4"},"encoding":{"text":{"condition":{"test":"datum.v!=null","field":"v","format":".2f"},"value":""}}}]},
{"title":"(o) WM, ε\u2002=\u200215, l\u2002=\u20020","transform":[{"filter":"datum.p==='o'"}],"width":200,"height":200,"encoding":{"x":{"field":"c","type":"nominal","sort":["FR","IT","JA","PT","TR","ZH","AVG"]},"y":{"field":"r","type":"nominal","sort":["FR","IT","JA","PT","TR","ZH","AVG"]}},"layer":[{"transform":[{"filter":"datum.v!=null"}],"mark":"rect","encoding":{"color":{"field":"v","type":"quantitative","scale":{"domain":[0,0.1,0.2,0.3,0.4,0.5,0.6,0.7,0.8,0.9,1],"range":["#e8f4ec","#c9e6d9","#a9d3c8","#8fbcbc","#7ca2b3","#6880a2","#5a5d8a","#4c4571","#3d2e57","#2c1d3d","#1a0f22"]},"legend":{"title":null,"values":[0,0.2,0.4,0.6,0.8,1],"format":".1f"}}}},{"mark":{"type":"text","font":"DejaVu Sans","fontSize":8,"color":"#f4f4f4"},"encoding":{"text":{"condition":{"test":"datum.v!=null","field":"v","format":".2f"},"value":""}}}]},
{"title":"(p) WM, ε\u2002=\u200215, l\u2002=\u20028","transform":[{"filter":"datum.p==='p'"}],"width":200,"height":200,"encoding":{"x":{"field":"c","type":"nominal","sort":["FR","IT","JA","PT","TR","ZH","AVG"]},"y":{"field":"r","type":"nominal","sort":["FR","IT","JA","PT","TR","ZH","AVG"]}},"layer":[{"transform":[{"filter":"datum.v!=null"}],"mark":"rect","encoding":{"color":{"field":"v","type":"quantitative","scale":{"domain":[0,0.1,0.2,0.3,0.4,0.5,0.6,0.7,0.8,0.9,1],"range":["#e8f4ec","#c9e6d9","#a9d3c8","#8fbcbc","#7ca2b3","#6880a2","#5a5d8a","#4c4571","#3d2e57","#2c1d3d","#1a0f22"]},"legend":{"title":null,"values":[0,0.2,0.4,0.6,0.8,1],"format":".1f"}}}},{"mark":{"type":"text","font":"DejaVu Sans","fontSize":8,"color":"#f4f4f4"},"encoding":{"text":{"condition":{"test":"datum.v!=null","field":"v","format":".2f"},"value":""}}}]},
{"title":"(q) TED, ε\u2002=\u200230, l\u2002=\u20020","transform":[{"filter":"datum.p==='q'"}],"width":200,"height":200,"encoding":{"x":{"field":"c","type":"nominal","sort":["FR","IT","JA","PT","TH","TR","ZH","AVG"]},"y":{"field":"r","type":"nominal","sort":["FR","IT","JA","PT","TH","TR","ZH","AVG"]}},"layer":[{"transform":[{"filter":"datum.v!=null"}],"mark":"rect","encoding":{"color":{"field":"v","type":"quantitative","scale":{"domain":[0,0.1,0.2,0.3,0.4,0.5,0.6,0.7,0.8,0.9,1],"range":["#e8f4ec","#c9e6d9","#a9d3c8","#8fbcbc","#7ca2b3","#6880a2","#5a5d8a","#4c4571","#3d2e57","#2c1d3d","#1a0f22"]},"legend":{"title":null,"values":[0,0.2,0.4,0.6,0.8,1],"format":".1f"}}}},{"mark":{"type":"text","font":"DejaVu Sans","fontSize":8,"color":"#f4f4f4"},"encoding":{"text":{"condition":{"test":"datum.v!=null","field":"v","format":".2f"},"value":""}}}]},
{"title":"(r) TED, ε\u2002=\u200230, l\u2002=\u20028","transform":[{"filter":"datum.p==='r'"}],"width":200,"height":200,"encoding":{"x":{"field":"c","type":"nominal","sort":["FR","IT","JA","PT","TH","TR","ZH","AVG"]},"y":{"field":"r","type":"nominal","sort":["FR","IT","JA","PT","TH","TR","ZH","AVG"]}},"layer":[{"transform":[{"filter":"datum.v!=null"}],"mark":"rect","encoding":{"color":{"field":"v","type":"quantitative","scale":{"domain":[0,0.1,0.2,0.3,0.4,0.5,0.6,0.7,0.8,0.9,1],"range":["#e8f4ec","#c9e6d9","#a9d3c8","#8fbcbc","#7ca2b3","#6880a2","#5a5d8a","#4c4571","#3d2e57","#2c1d3d","#1a0f22"]},"legend":{"title":null,"values":[0,0.2,0.4,0.6,0.8,1],"format":".1f"}}}},{"mark":{"type":"text","font":"DejaVu Sans","fontSize":8,"color":"#f4f4f4"},"encoding":{"text":{"condition":{"test":"datum.v!=null","field":"v","format":".2f"},"value":""}}}]},
{"title":"(s) WM, ε\u2002=\u200230, l\u2002=\u20020","transform":[{"filter":"datum.p==='s'"}],"width":200,"height":200,"encoding":{"x":{"field":"c","type":"nominal","sort":["FR","IT","JA","PT","TR","ZH","AVG"]},"y":{"field":"r","type":"nominal","sort":["FR","IT","JA","PT","TR","ZH","AVG"]}},"layer":[{"transform":[{"filter":"datum.v!=null"}],"mark":"rect","encoding":{"color":{"field":"v","type":"quantitative","scale":{"domain":[0,0.1,0.2,0.3,0.4,0.5,0.6,0.7,0.8,0.9,1],"range":["#e8f4ec","#c9e6d9","#a9d3c8","#8fbcbc","#7ca2b3","#6880a2","#5a5d8a","#4c4571","#3d2e57","#2c1d3d","#1a0f22"]},"legend":{"title":null,"values":[0,0.2,0.4,0.6,0.8,1],"format":".1f"}}}},{"mark":{"type":"text","font":"DejaVu Sans","fontSize":8,"color":"#f4f4f4"},"encoding":{"text":{"condition":{"test":"datum.v!=null","field":"v","format":".2f"},"value":""}}}]},
{"title":"(t) WM, ε\u2002=\u200230, l\u2002=\u20028","transform":[{"filter":"datum.p==='t'"}],"width":200,"height":200,"encoding":{"x":{"field":"c","type":"nominal","sort":["FR","IT","JA","PT","TR","ZH","AVG"]},"y":{"field":"r","type":"nominal","sort":["FR","IT","JA","PT","TR","ZH","AVG"]}},"layer":[{"transform":[{"filter":"datum.v!=null"}],"mark":"rect","encoding":{"color":{"field":"v","type":"quantitative","scale":{"domain":[0,0.1,0.2,0.3,0.4,0.5,0.6,0.7,0.8,0.9,1],"range":["#e8f4ec","#c9e6d9","#a9d3c8","#8fbcbc","#7ca2b3","#6880a2","#5a5d8a","#4c4571","#3d2e57","#2c1d3d","#1a0f22"]},"legend":{"title":null,"values":[0,0.2,0.4,0.6,0.8,1],"format":".1f"}}}},{"mark":{"type":"text","font":"DejaVu Sans","fontSize":8,"color":"#f4f4f4"},"encoding":{"text":{"condition":{"test":"datum.v!=null","field":"v","format":".2f"},"value":""}}}]},
{"title":"(u) TED, ε\u2002=\u2002∞, l\u2002=\u20020","transform":[{"filter":"datum.p==='u'"}],"width":200,"height":200,"encoding":{"x":{"field":"c","type":"nominal","sort":["FR","IT","JA","PT","TH","TR","ZH","AVG"]},"y":{"field":"r","type":"nominal","sort":["FR","IT","JA","PT","TH","TR","ZH","AVG"]}},"layer":[{"transform":[{"filter":"datum.v!=null"}],"mark":"rect","encoding":{"color":{"field":"v","type":"quantitative","scale":{"domain":[0,0.1,0.2,0.3,0.4,0.5,0.6,0.7,0.8,0.9,1],"range":["#e8f4ec","#c9e6d9","#a9d3c8","#8fbcbc","#7ca2b3","#6880a2","#5a5d8a","#4c4571","#3d2e57","#2c1d3d","#1a0f22"]},"legend":{"title":null,"values":[0,0.2,0.4,0.6,0.8,1],"format":".1f"}}}},{"mark":{"type":"text","font":"DejaVu Sans","fontSize":8,"color":"#f4f4f4"},"encoding":{"text":{"condition":{"test":"datum.v!=null","field":"v","format":".2f"},"value":""}}}]},
{"title":"(v) TED, ε\u2002=\u2002∞, l\u2002=\u20028","transform":[{"filter":"datum.p==='v'"}],"width":200,"height":200,"encoding":{"x":{"field":"c","type":"nominal","sort":["FR","IT","JA","PT","TH","TR","ZH","AVG"]},"y":{"field":"r","type":"nominal","sort":["FR","IT","JA","PT","TH","TR","ZH","AVG"]}},"layer":[{"transform":[{"filter":"datum.v!=null"}],"mark":"rect","encoding":{"color":{"field":"v","type":"quantitative","scale":{"domain":[0,0.1,0.2,0.3,0.4,0.5,0.6,0.7,0.8,0.9,1],"range":["#e8f4ec","#c9e6d9","#a9d3c8","#8fbcbc","#7ca2b3","#6880a2","#5a5d8a","#4c4571","#3d2e57","#2c1d3d","#1a0f22"]},"legend":{"title":null,"values":[0,0.2,0.4,0.6,0.8,1],"format":".1f"}}}},{"mark":{"type":"text","font":"DejaVu Sans","fontSize":8,"color":"#f4f4f4"},"encoding":{"text":{"condition":{"test":"datum.v!=null","field":"v","format":".2f"},"value":""}}}]},
{"title":"(w) WM, ε\u2002=\u2002∞, l\u2002=\u20020","transform":[{"filter":"datum.p==='w'"}],"width":200,"height":200,"encoding":{"x":{"field":"c","type":"nominal","sort":["FR","IT","JA","PT","TR","ZH","AVG"]},"y":{"field":"r","type":"nominal","sort":["FR","IT","JA","PT","TR","ZH","AVG"]}},"layer":[{"transform":[{"filter":"datum.v!=null"}],"mark":"rect","encoding":{"color":{"field":"v","type":"quantitative","scale":{"domain":[0,0.1,0.2,0.3,0.4,0.5,0.6,0.7,0.8,0.9,1],"range":["#e8f4ec","#c9e6d9","#a9d3c8","#8fbcbc","#7ca2b3","#6880a2","#5a5d8a","#4c4571","#3d2e57","#2c1d3d","#1a0f22"]},"legend":{"title":null,"values":[0,0.2,0.4,0.6,0.8,1],"format":".1f"}}}},{"mark":{"type":"text","font":"DejaVu Sans","fontSize":8,"color":"#f4f4f4"},"encoding":{"text":{"condition":{"test":"datum.v!=null","field":"v","format":".2f"},"value":""}}}]},
{"title":"(x) WM, ε\u2002=\u2002∞, l\u2002=\u20028","transform":[{"filter":"datum.p==='x'"}],"width":200,"height":200,"encoding":{"x":{"field":"c","type":"nominal","sort":["FR","IT","JA","PT","TR","ZH","AVG"]},"y":{"field":"r","type":"nominal","sort":["FR","IT","JA","PT","TR","ZH","AVG"]}},"layer":[{"transform":[{"filter":"datum.v!=null"}],"mark":"rect","encoding":{"color":{"field":"v","type":"quantitative","scale":{"domain":[0,0.1,0.2,0.3,0.4,0.5,0.6,0.7,0.8,0.9,1],"range":["#e8f4ec","#c9e6d9","#a9d3c8","#8fbcbc","#7ca2b3","#6880a2","#5a5d8a","#4c4571","#3d2e57","#2c1d3d","#1a0f22"]},"legend":{"title":null,"values":[0,0.2,0.4,0.6,0.8,1],"format":".1f"}}}},{"mark":{"type":"text","font":"DejaVu Sans","fontSize":8,"color":"#f4f4f4"},"encoding":{"text":{"condition":{"test":"datum.v!=null","field":"v","format":".2f"},"value":""}}}]}
]
}
